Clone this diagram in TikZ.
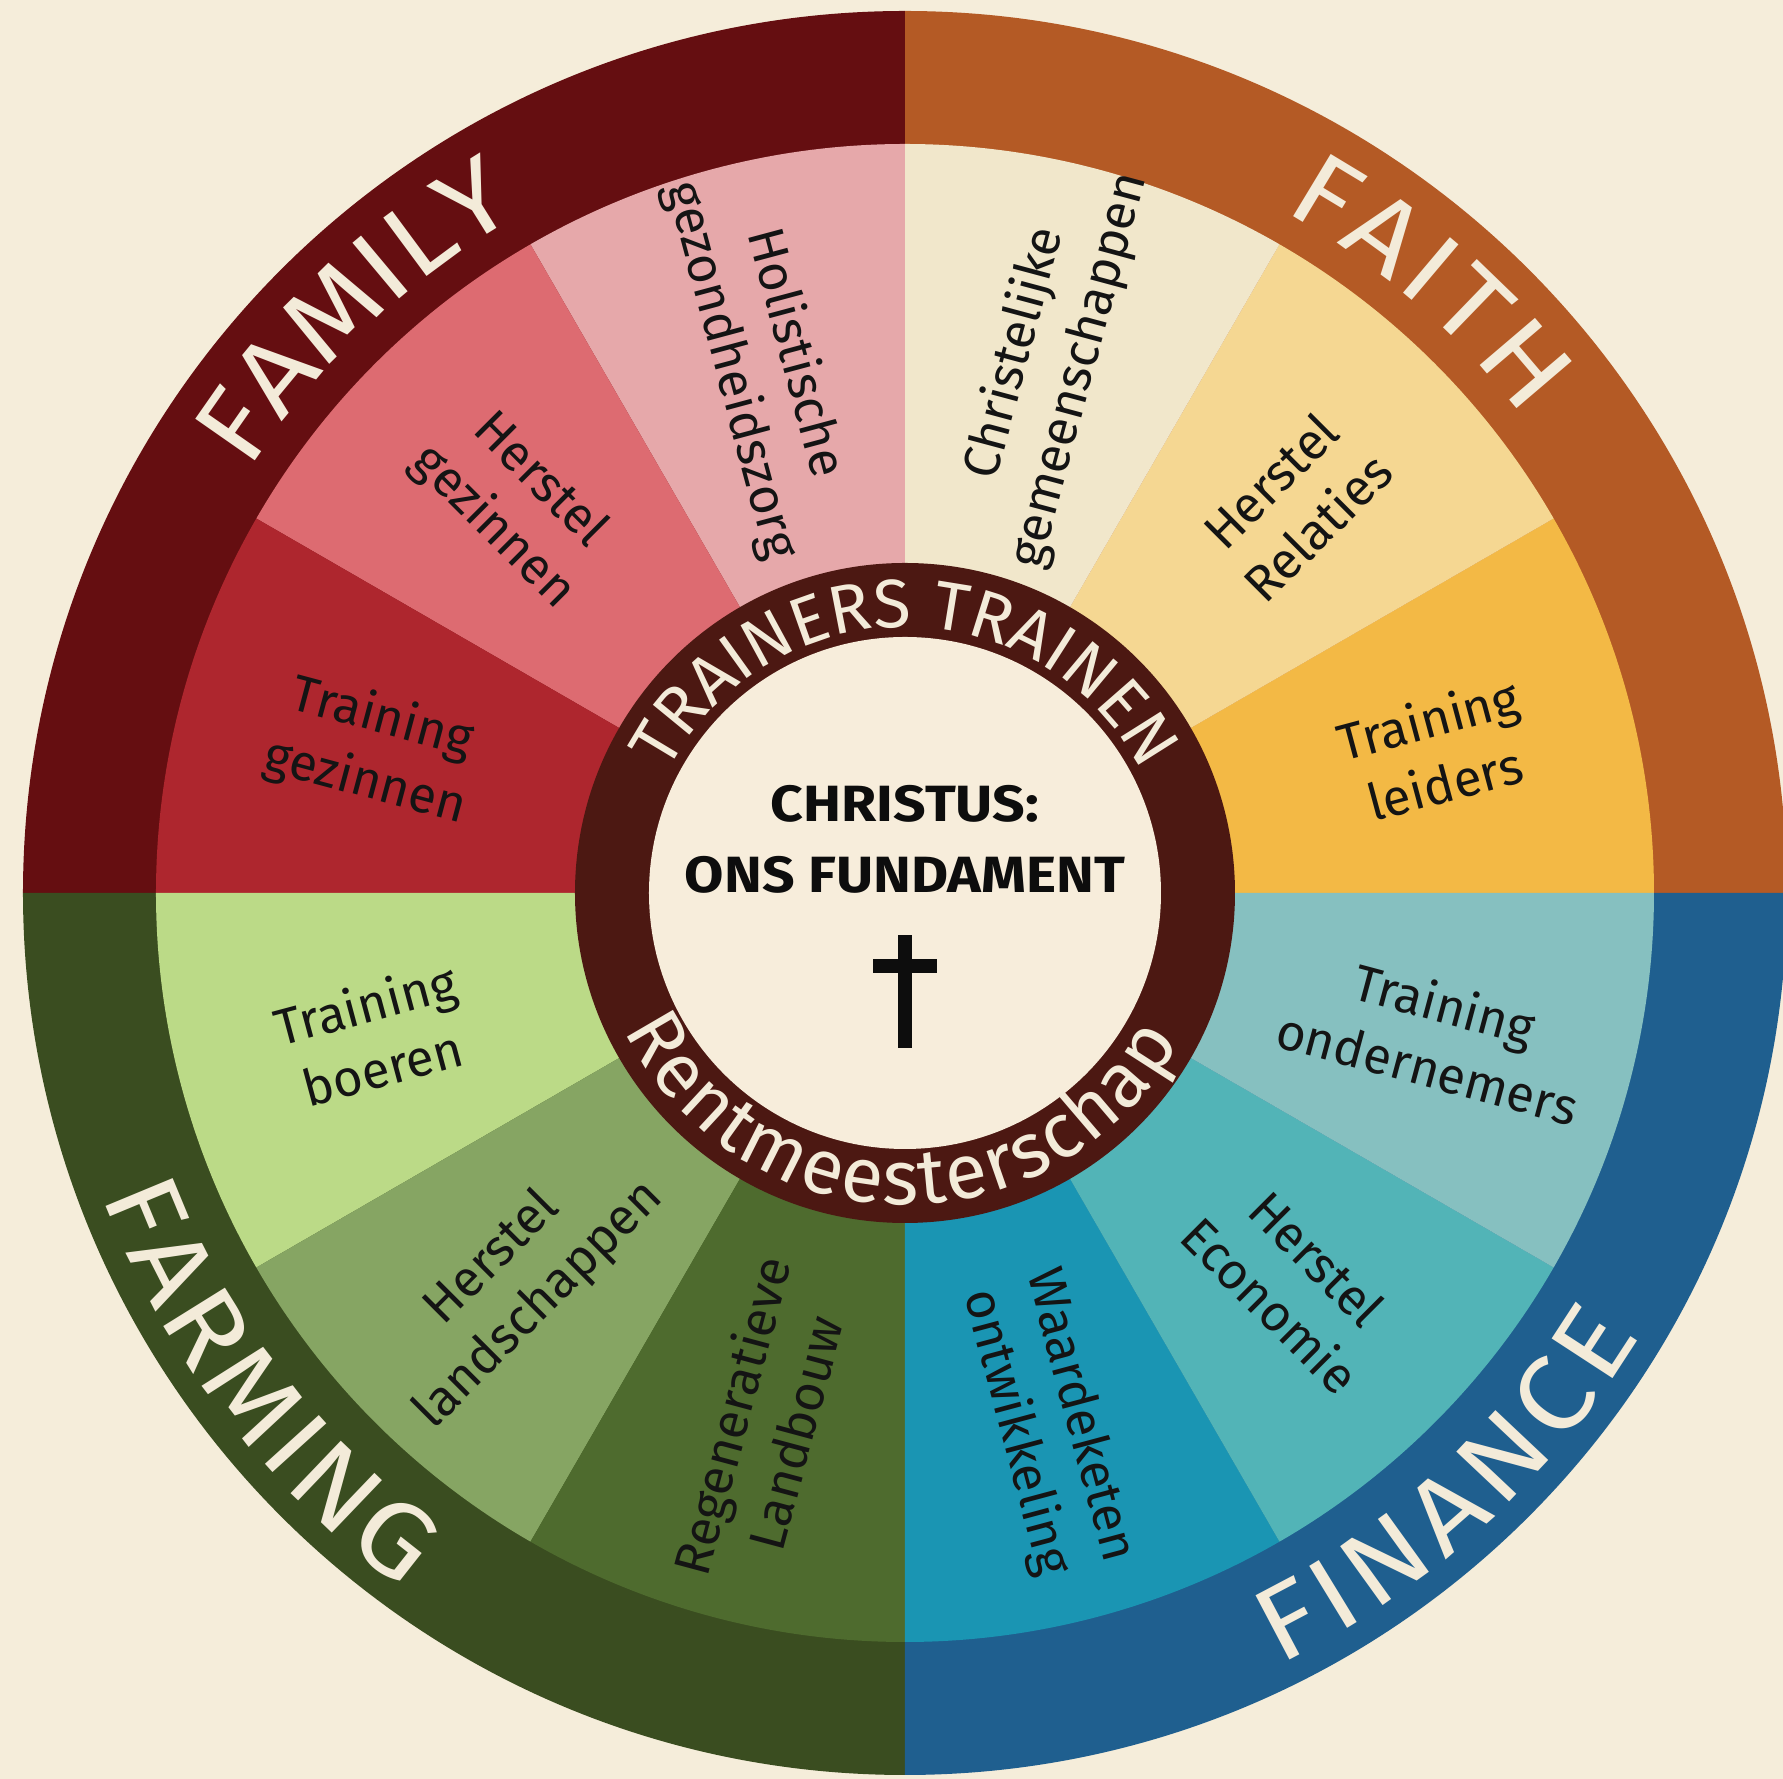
\documentclass[tikz,border=0pt]{standalone}
\usepackage{fontspec}
\setmainfont{Fira Sans}
\newfontfamily\corefont{Fira Sans}[FakeStretch=1.12]
\newfontfamily\pillarfont{Fira Sans}[FakeStretch=1.12]
\usetikzlibrary{decorations.text}

\definecolor{beans}{HTML}{F5EDDA}
\definecolor{cream}{HTML}{F3EBD9}
\definecolor{familyc}{HTML}{650E11}
\definecolor{faithc}{HTML}{B45A25}
\definecolor{farmingc}{HTML}{3A4D20}
\definecolor{financec}{HTML}{1F5F8F}
\definecolor{hubring}{HTML}{4C1812}
\definecolor{hubfill}{HTML}{F7EDDB}
% segment colours
\definecolor{leidersc}{HTML}{F3B945}
\definecolor{relatiesc}{HTML}{F5D792}
\definecolor{gemeenc}{HTML}{F1E7CB}
\definecolor{holisc}{HTML}{E6A8AA}
\definecolor{gezinherc}{HTML}{DD6B71}
\definecolor{gezintrc}{HTML}{AE262E}
\definecolor{boerenc}{HTML}{BBDA87}
\definecolor{landschc}{HTML}{86A563}
\definecolor{landbouwc}{HTML}{4E6B2E}
\definecolor{waardec}{HTML}{1A95B3}
\definecolor{economiec}{HTML}{52B4B7}
\definecolor{ondernc}{HTML}{86C0C0}

\newcommand{\wedgefont}{\fontsize{14.5}{18.8}\selectfont}
\newcommand{\bigfont}{\pillarfont\fontsize{30}{30}\selectfont}
\newcommand{\hubfont}{\fontsize{19.5}{19.5}\selectfont}
\newcommand{\stewfont}{\fontsize{22}{22}\selectfont}

\tikzstyle{wedge label}=[font=\wedgefont, align=center, inner sep=0pt, text=black!92]
\tikzstyle{core text}=[font=\corefont\bfseries\fontsize{14.5}{14.5}\selectfont, inner sep=0pt, anchor=base, text=black!95]
\tikzset{
  big label/.style={decorate, decoration={text along path, text align=fit to path,
      text={|\bigfont\color{cream}|#1}}},
  hub label/.style={decorate, decoration={text along path, text align=center,
      text={|\hubfont\color{cream}|#1}}},
  stew label/.style={decorate, decoration={text along path, text align=fit to path,
      text={|\stewfont\color{cream}|#1}}}
}

\begin{document}
\begin{tikzpicture}
  \useasboundingbox[fill=beans] (-9.05,-8.86) rectangle (8.78,8.93);
  % outer ring
  \foreach \a/\c in {0/faithc, 90/familyc, 180/farmingc, 270/financec}
    \fill[\c] (0,0) -- (\a:8.82) arc (\a:\a+90:8.82) -- cycle;
  % segments
  \foreach \a/\c in {0/leidersc, 30/relatiesc, 60/gemeenc, 90/holisc, 120/gezinherc, 150/gezintrc,
                     180/boerenc, 210/landschc, 240/landbouwc, 270/waardec, 300/economiec, 330/ondernc}
    \fill[\c] (0,0) -- (\a:7.49) arc (\a:\a+30:7.49) -- cycle;
  % hub
  \fill[hubring] (0,0) circle (3.30);
  \fill[hubfill] (0,0) circle (2.56);

  \foreach \a/\r/\nm/\txt in {15/15/leiders/{Training\\leiders},
      45/45/relaties/{Herstel\\Relaties},
      75/75/gemeenschap/{Christelijke\\gemeenschappen},
      105/-75/holistisch/{Holistische\\gezondheidszorg},
      135/-45/gezinherstel/{Herstel\\gezinnen},
      165/-15/gezintraining/{Training\\gezinnen},
      195/15/boeren/{Training\\boeren},
      225/45/landschap/{Herstel\\landschappen},
      255/75/landbouw/{Regeneratieve\\Landbouw},
      285/-75/waardeketen/{Waardeketen\\ontwikkeling},
      315/-45/economie/{Herstel\\Economie},
      345/-15/ondernemers/{Training\\ondernemers}}
    \node[wedge label, rotate=\r] (\nm) at (\a:5.5) {\txt};

  % pillar names
  \path[big label=FAMILY] (147.2:7.80) arc (147.2:120.2:7.80);
  \path[big label=FAITH] (61:7.80) arc (61:37.5:7.80);
  \path[big label=FARMING] (200.6:8.58) arc (200.6:234.2:8.58);
  \path[big label=FINANCE] (-64.1:8.58) arc (-64.1:-31:8.58);

  \path[hub label=TRAINERS TRAINEN] (175:2.66) arc (175:5:2.66);
  \path[stew label=Rentmeesterschap] (206:3.12) arc (206:331.5:3.12);

  \node[core text] (christus) at (0,0.71) {CHRISTUS:};
  \node[core text] (fundament) at (0,0) {ONS FUNDAMENT};
  % cross
  \fill[black!95] (-0.068,-0.42) rectangle (0.068,-1.55);
  \fill[black!95] (-0.32,-0.66) rectangle (0.32,-0.80);
\end{tikzpicture}
\end{document}
